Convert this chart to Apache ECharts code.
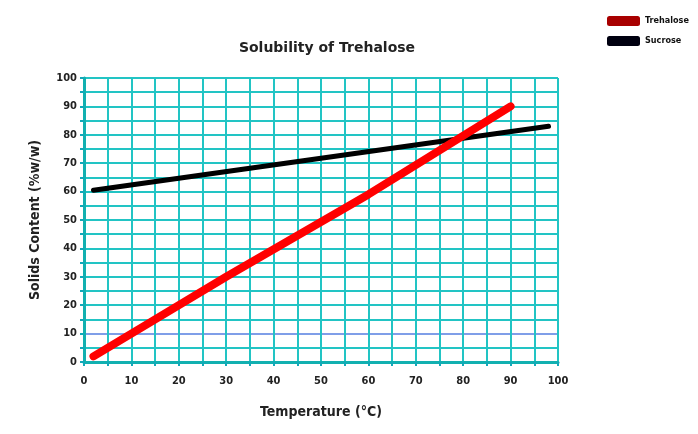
<!DOCTYPE html>
<html>
<head>
<meta charset="utf-8">
<script src="https://cdn.jsdelivr.net/npm/echarts@6/dist/echarts.min.js"></script>
<style>
  html, body { margin: 0; padding: 0; background: #fff; }
  #chart { width: 698px; height: 434px; }
</style>
</head>
<body>
<div id="chart"></div>
<script>
// data
var trehaloseTemp = [2, 30, 60, 90];
var trehaloseValues = [2, 30, 59, 90];
var sucroseTemp = [2, 98];
var sucroseValues = [60.5, 83];
var seriesNames = ["Trehalose", "Sucrose"];

function pairs(xs, ys) {
  return xs.map(function (x, i) { return [x, ys[i]]; });
}

var chart = echarts.init(document.getElementById("chart"));

// y grid line at 10 is drawn in blue in the original
var yLineColors = [];
for (var i = 0; i <= 20; i++) yLineColors.push(i === 2 ? "#7f9ee8" : "#22c4c4");

var labelFont = { color: "#222", fontSize: 11, fontWeight: "bold", fontFamily: "DejaVu Sans Condensed" };

var option = {
  animation: false,
  title: {
    text: "Solubility of Trehalose",
    left: 322, top: 36,
    textAlign: "center",
    textStyle: { color: "#222", fontSize: 14, fontWeight: "bold", fontFamily: "DejaVu Sans" }
  },
  legend: {
    orient: "vertical",
    left: 602, top: 11,
    itemWidth: 33, itemHeight: 10, itemGap: 10,
    icon: "roundRect",
    textStyle: { color: "#111", fontSize: 9, fontWeight: "bold", fontFamily: "DejaVu Sans Condensed" },
    data: [
      { name: seriesNames[0], itemStyle: { color: "#a80000" } },
      { name: seriesNames[1], itemStyle: { color: "#000010" } }
    ]
  },
  grid: { left: 84, right: 140, top: 78, bottom: 72 },
  xAxis: {
    type: "value",
    min: 0, max: 100, interval: 5,
    name: "Temperature (°C)",
    nameLocation: "middle",
    nameGap: 43,
    nameTextStyle: { color: "#222", fontSize: 14, fontWeight: "bold", fontFamily: "DejaVu Sans Condensed" },
    axisLine: { show: true, lineStyle: { color: "#12b0b0", width: 3 } },
    axisTick: { show: true, length: 4, lineStyle: { color: "#12a8b8", width: 2 } },
    axisLabel: Object.assign({ margin: 14, formatter: function (v) { return v % 10 === 0 ? v : ""; } }, labelFont),
    splitLine: { show: true, lineStyle: { color: "#22c4c4", width: 2 } }
  },
  yAxis: {
    type: "value",
    min: 0, max: 100, interval: 5,
    name: "Solids Content (%w/w)",
    nameLocation: "middle",
    nameGap: 42,
    nameTextStyle: { color: "#222", fontSize: 14, fontWeight: "bold", fontFamily: "DejaVu Sans Condensed" },
    axisLine: { show: true, lineStyle: { color: "#12b0b0", width: 3 } },
    axisTick: { show: true, length: 4, lineStyle: { color: "#12a8b8", width: 2 } },
    axisLabel: Object.assign({ margin: 7, formatter: function (v) { return v % 10 === 0 ? v : ""; } }, labelFont),
    splitLine: { show: true, lineStyle: { color: yLineColors, width: 2 } }
  },
  series: [
    {
      name: seriesNames[0],
      type: "line",
      data: pairs(trehaloseTemp, trehaloseValues),
      showSymbol: false,
      lineStyle: { color: "#ff0000", width: 8, cap: "round" },
      itemStyle: { color: "#ff0000" },
      z: 4
    },
    {
      name: seriesNames[1],
      type: "line",
      data: pairs(sucroseTemp, sucroseValues),
      showSymbol: false,
      lineStyle: { color: "#000000", width: 5, cap: "round" },
      itemStyle: { color: "#000000" },
      z: 3
    }
  ]
};

chart.setOption(option);
</script>
</body>
</html>
